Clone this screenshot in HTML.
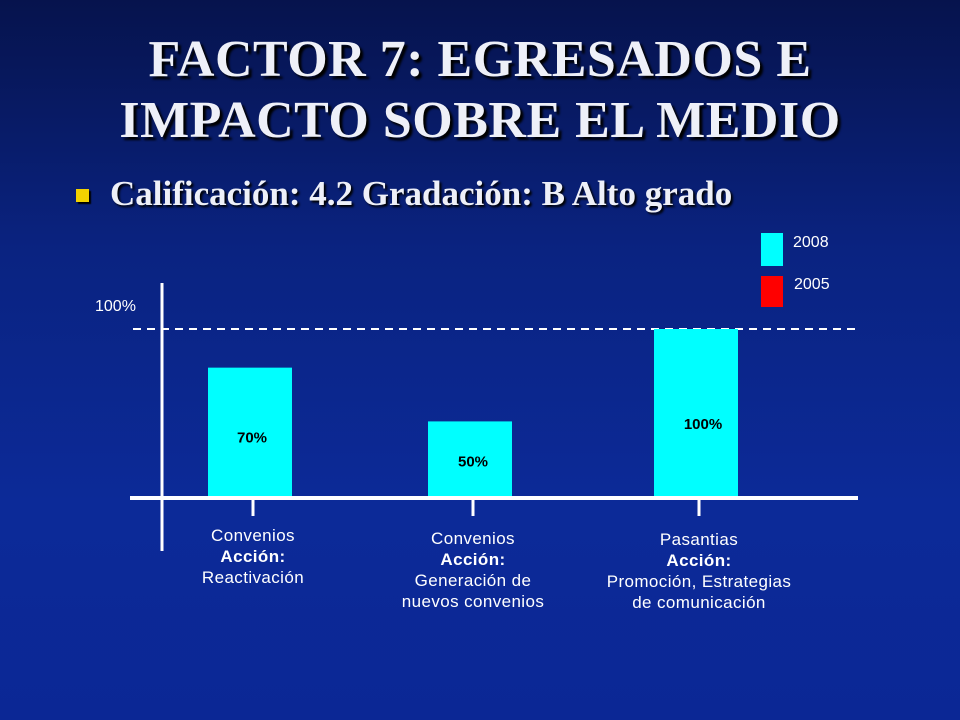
<!DOCTYPE html>
<html><head><meta charset="utf-8"><style>
html,body{margin:0;padding:0}
body{width:960px;height:720px;overflow:hidden;position:relative;
background:linear-gradient(180deg,#06134d 0%,#0a2381 35%,#0c2a98 70%,#0b2795 100%);
font-family:"Liberation Sans",sans-serif;}
.title{position:absolute;left:0;width:960px;text-align:center;font-family:"Liberation Serif",serif;font-weight:bold;font-size:52px;color:#eef0f8;text-shadow:3px 3px 2px #000;line-height:62px;letter-spacing:0.5px}
.bullet{position:absolute;left:76px;top:189px;width:13px;height:13px;background:#f2d200;box-shadow:2px 2px 1px #000}
.sub{position:absolute;left:110px;top:174px;font-family:"Liberation Serif",serif;font-weight:bold;font-size:35px;color:#eef0f8;text-shadow:2px 2px 2px #000}
.t{position:absolute;color:#fff;font-size:16px;white-space:nowrap}
.cat{position:absolute;color:#fff;font-size:17px;text-align:center;line-height:21px;width:280px;letter-spacing:0.4px}
</style></head><body>
<div class="title" style="top:29px">FACTOR 7: EGRESADOS E</div>
<div class="title" style="top:90px">IMPACTO SOBRE EL MEDIO</div>
<div class="bullet"></div>
<div class="sub">Calificación: 4.2 Gradación: B Alto grado</div>
<div style="position:absolute;left:761px;top:233px;width:22px;height:33px;background:#00ffff"></div>
<div class="t" style="left:793px;top:234px">2008</div>
<div style="position:absolute;left:761px;top:276px;width:22px;height:31px;background:#ff0000"></div>
<div class="t" style="left:794px;top:276px">2005</div>
<div class="t" style="left:95px;top:298px">100%</div>
<svg id="chart" width="960" height="720" style="position:absolute;left:0;top:0"></svg>
<div id="cats"></div>
<script>
const categories=["Convenios|<b>Acción:</b>|Reactivación","Convenios|<b>Acción:</b>|Generación de|nuevos convenios","Pasantias|<b>Acción:</b>|Promoción, Estrategias|de comunicación"];
const values2008=[77,45,100];
const valueLabels=["70%","50%","100%"];
const ns="http://www.w3.org/2000/svg";
const svg=document.getElementById('chart');
const y0=497,yTop=329;
function y(v){return y0-(y0-yTop)*v/100;}
const centers=[250,470,696];
function x(i){return centers[i];}
const labelOffsets=[75,45,100];
const labelDx=[2,3,7];
function mk(t,a){const e=document.createElementNS(ns,t);for(const k in a)e.setAttribute(k,a[k]);svg.appendChild(e);return e;}
const dl=mk('line',{x1:133,x2:856,y1:y(100),y2:y(100),stroke:'#fff','stroke-width':2,'stroke-dasharray':'8,6'});


values2008.forEach((v,i)=>{
 const r=mk('rect',{x:x(i)-42,y:y(v),width:84,height:y0-y(v),fill:'#00ffff'});
 
 
 const t=mk('text',{x:x(i)+labelDx[i],y:y(v)+labelOffsets[i],'text-anchor':'middle','font-family':'Liberation Sans, sans-serif','font-weight':'bold','font-size':15,fill:'#000'});
 t.textContent=valueLabels[i];
 
 
 const tk=mk('line',{x1:x(i)+3,x2:x(i)+3,y1:498,y2:516,stroke:'#fff','stroke-width':3});
 
 
});
const ya=mk('line',{x1:162,x2:162,y1:283,y2:551,stroke:'#fff','stroke-width':3});


const xa=mk('line',{x1:130,x2:858,y1:498,y2:498,stroke:'#fff','stroke-width':4});


const cats=document.getElementById('cats');
const catTops=[525,528,529];
categories.forEach((c,i)=>{
 const d=document.createElement('div');
 d.className='cat';
 d.style.left=(x(i)+3-140)+'px';d.style.top=catTops[i]+'px';
 d.innerHTML=c.split('|').join('<br>');
 
 
 cats.appendChild(d);
});
</script>
</body></html>
